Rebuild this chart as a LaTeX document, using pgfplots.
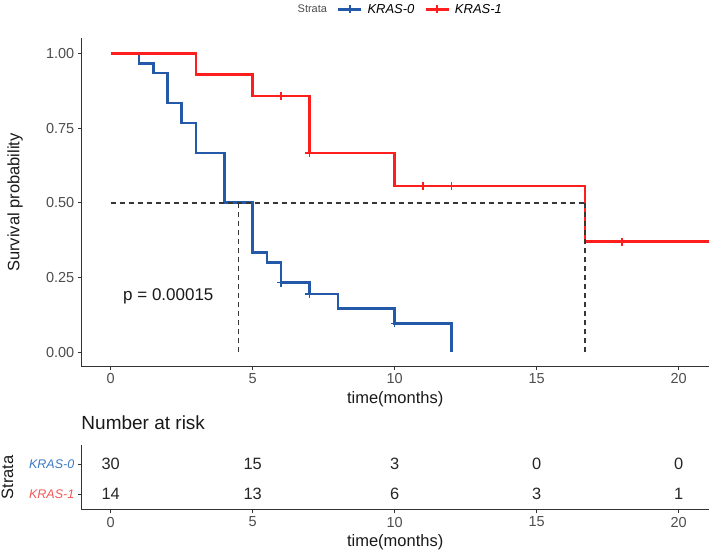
\documentclass[border=0pt]{standalone}
\usepackage{pgfplots}
\pgfplotsset{compat=1.18}
\usepackage{fontspec}
\setmainfont{Liberation Sans}
\definecolor{kblue}{HTML}{2458A8}
\definecolor{kred}{HTML}{FF1E1E}
\definecolor{kbluet}{HTML}{3A78C2}
\definecolor{kredt}{HTML}{F25555}
\definecolor{axgrey}{HTML}{333333}
\definecolor{tickgrey}{HTML}{4D4D4D}
\definecolor{dashgrey}{HTML}{363636}
\newcommand{\fs}[1]{\fontsize{#1}{#1}\selectfont}
\pgfplotsset{
  kmbase/.style={
    scale only axis, width=627.7bp,
    xmin=-1.035, xmax=21.07,
    axis lines=left, axis line style={-, axgrey, line width=1bp},
    tick align=outside, major tick length=3.5bp,
    tick style={axgrey, line width=0.8bp},
    xtick={0,5,10,15,20},
    /pgf/number format/assume math mode=true,
    xticklabel style={font=\fs{14.5bp}, text=tickgrey},
    yticklabel style={font=\fs{14.5bp}, text=tickgrey},
    label style={font=\fs{16.5bp}, text=black!90},
  }
}
\begin{document}
\begin{tikzpicture}
\useasboundingbox (0bp,0bp) rectangle (709bp,553bp);
\begin{axis}[kmbase,
  at={(81.3bp,514.7bp)}, anchor=north west, height=328.4bp,
  ymin=-0.048, ymax=1.05,
  ytick={0,0.25,0.5,0.75,1},
  yticklabels={0.00,0.25,0.50,0.75,1.00},
  xlabel={time(months)},
  xlabel style={at={(axis description cs:0.5,-0.1005)}, anchor=center},
  ylabel={Survival probability},
  ylabel style={at={(axis description cs:-0.1056,0.5)}, anchor=center},
  legend columns=-1,
  legend style={at={(axis description cs:0.505,1.088)}, anchor=center, draw=none, fill=none,
    font=\itshape\fs{13bp}, inner sep=0pt,
    /tikz/every even column/.append style={column sep=8bp},
    /tikz/every odd column/.append style={column sep=3bp}},
  legend image code/.code={\draw[mark repeat=2, mark phase=2] plot coordinates {(0bp,0bp)(11.5bp,0bp)(23bp,0bp)};},
]
\addlegendimage{empty legend}
\addlegendentry{\upshape\fs{11bp}\textcolor{tickgrey}{Strata}}
\addlegendimage{kblue, line width=2.5bp, mark=|, mark size=4bp, mark options={line width=1.8bp}}
\addlegendentry{KRAS-0}
\addlegendimage{kred, line width=2.5bp, mark=|, mark size=4bp, mark options={line width=1.8bp}}
\addlegendentry{KRAS-1}

% KRAS-0
\addplot[const plot, kblue, line width=2.6bp, forget plot] coordinates {
 (0,1) (1,0.9667) (1.5,0.9333) (2,0.8333) (2.5,0.7667) (3,0.6667) (4,0.5)
 (5,0.3333) (5.5,0.3) (6,0.2333) (7,0.1944) (8,0.1458) (10,0.0972) (12,0)};
% KRAS-1
\addplot[const plot, kred, line width=2.6bp, forget plot] coordinates {
 (0,1) (3,0.9286) (5,0.8571) (7,0.6667) (10,0.5556) (16.7,0.3704) (21.07,0.3704)};
% censor marks
\addplot[only marks, mark=+, mark size=4bp, kblue, mark options={line width=1.5bp}, forget plot] coordinates {
 (6,0.2333) (7,0.1944) (10,0.0972)};
\addplot[only marks, mark=+, mark size=4bp, kred, mark options={line width=1.5bp}, forget plot] coordinates {
 (6,0.8571) (7,0.6667) (11,0.5556) (12,0.5556) (18,0.3704)};
% median lines
\addplot[dashgrey, line width=1.6bp, dash pattern=on 5bp off 4bp, forget plot] coordinates {(0,0.5) (16.7,0.5)};
\addplot[dashgrey, line width=1.6bp, dash pattern=on 5bp off 4bp, forget plot] coordinates {(4.5,0) (4.5,0.5)};
\addplot[dashgrey, line width=1.6bp, dash pattern=on 5bp off 4bp, forget plot] coordinates {(16.7,0) (16.7,0.5)};
\node[anchor=base, font=\fs{17bp}, text=black!90] at (axis cs:2.03,0.175) {p = 0.00015};
\end{axis}

\begin{axis}[kmbase,
  at={(81.3bp,108bp)}, anchor=north west, height=65bp,
  ymin=0.48, ymax=2.63,
  ytick={1,2},
  yticklabels={\textcolor{kredt}{KRAS-1},\textcolor{kbluet}{KRAS-0}},
  yticklabel style={font=\itshape\fs{12.5bp}},
  xlabel={time(months)},
  xlabel style={at={(axis description cs:0.5,-0.492)}, anchor=center},
  ylabel={Strata},
  ylabel style={at={(axis description cs:-0.1176,0.5)}, anchor=center},
  title={Number at risk},
  title style={at={(axis description cs:0,1)}, anchor=base west, yshift=10bp, inner sep=0pt, font=\fs{19bp}, text=black!90},
]
\addplot[draw=none, mark=none, nodes near coords, point meta=explicit symbolic,
  nodes near coords style={anchor=center, font=\fs{16.4bp}, text=black!85}] coordinates {
 (0,2)[30] (5,2)[15] (10,2)[3] (15,2)[0] (20,2)[0]
 (0,1)[14] (5,1)[13] (10,1)[6] (15,1)[3] (20,1)[1]};
\end{axis}
\end{tikzpicture}
\end{document}
